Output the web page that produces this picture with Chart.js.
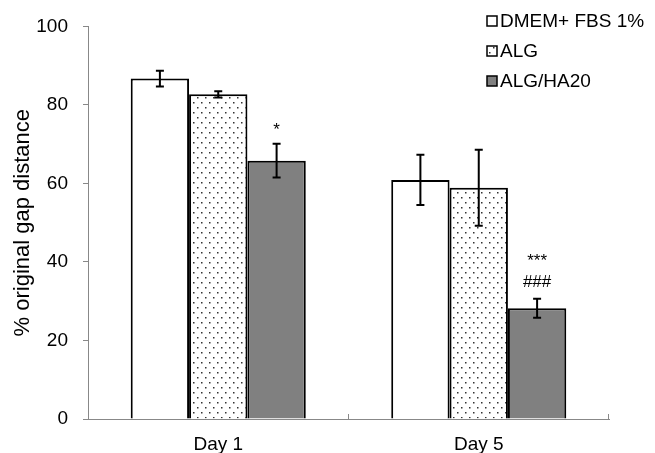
<!DOCTYPE html>
<html>
<head>
<meta charset="utf-8">
<script src="https://cdn.jsdelivr.net/npm/chart.js@4.4.0/dist/chart.umd.min.js"></script>
<style>
html, body { margin: 0; padding: 0; background: #fff; }
#wrap { width: 655px; height: 453px; }
</style>
</head>
<body>
<div id="wrap"><canvas id="chart"></canvas></div>
<script>
const days = ['Day 1', 'Day 5']
const seriesNames = ['DMEM+ FBS 1%', 'ALG', 'ALG/HA20']
const dmem = [86.7, 60.9]
const alg = [82.7, 58.9]
const algHa = [65.8, 28.2]
const dmemErr = [2.0, 6.4]
const algErr = [0.8, 9.7]
const algHaErr = [4.3, 2.4]
const algHaMarks = [['*'], ['***', '###']]
const yTicks = [0, 20, 40, 60, 80, 100]

const family = '"Liberation Sans", Arial, sans-serif'

function dots() {
    let c = document.createElement('canvas')
    c.width = 8
    c.height = 10
    let g = c.getContext('2d')
    g.fillStyle = '#fff'
    g.fillRect(0, 0, 8, 10)
    g.fillStyle = '#333'
    g.fillRect(1, 2, 1.5, 1.5)
    g.fillRect(5, 7, 1.5, 1.5)
    return g.createPattern(c, 'repeat')
}

// error bars + significance marks
const errorBars = {
    id: 'errorBars',
    afterDatasetsDraw(chart) {
        const ctx = chart.ctx
        const y = chart.scales.y
        ctx.save()
        ctx.strokeStyle = '#000'
        ctx.lineWidth = 2
        chart.data.datasets.forEach((ds, i) => {
            chart.getDatasetMeta(i).data.forEach((bar, j) => {
                const v = ds.data[j], e = ds.errors[j]
                const top = y.getPixelForValue(v + e)
                const bot = y.getPixelForValue(v - e)
                ctx.beginPath()
                ctx.moveTo(bar.x, top); ctx.lineTo(bar.x, bot)
                ctx.moveTo(bar.x - 4, top); ctx.lineTo(bar.x + 4, top)
                ctx.moveTo(bar.x - 4, bot); ctx.lineTo(bar.x + 4, bot)
                ctx.stroke()

                if (ds.marks) {
                    const marks = ds.marks[j]
                    ctx.fillStyle = '#000'
                    ctx.font = '17px ' + family
                    ctx.textAlign = 'center'
                    ctx.textBaseline = 'alphabetic'
                    marks.forEach((m, k) => {
                        const cy = top - 18 - (marks.length - 1 - k) * 24
                        const mt = ctx.measureText(m)
                        const by = cy + (mt.actualBoundingBoxAscent - mt.actualBoundingBoxDescent) / 2
                        ctx.fillText(m, bar.x, by)
                    })
                }
            })
        })
        ctx.restore()
    }
}

// excel style tick marks between the categories
const xTickMarks = {
    id: 'xTickMarks',
    afterDraw(chart) {
        const x = chart.scales.x
        const ctx = chart.ctx
        const step = (x.right - x.left) / days.length
        ctx.save()
        ctx.strokeStyle = '#888'
        ctx.lineWidth = 1
        ctx.beginPath()
        for (let i = 1; i <= days.length; i++) {
            const px = Math.round(x.left + i * step) - 0.5
            ctx.moveTo(px, x.top)
            ctx.lineTo(px, x.top - 5)
        }
        ctx.stroke()
        ctx.restore()
    }
}

const legendBox = {
    id: 'legendBox',
    afterDraw(chart) {
        const ctx = chart.ctx
        ctx.save()
        ctx.font = '19px ' + family
        ctx.textBaseline = 'middle'
        ctx.textAlign = 'left'
        chart.data.datasets.forEach((ds, i) => {
            const y = 21 + i * 30
            ctx.fillStyle = ds.backgroundColor
            ctx.fillRect(487, y - 5, 10, 10)
            ctx.strokeStyle = '#000'
            ctx.lineWidth = 1.5
            ctx.strokeRect(487, y - 5, 10, 10)
            ctx.fillStyle = '#000'
            ctx.fillText(ds.label, 500, y + 1)
        })
        ctx.restore()
    }
}

const data = {
    labels: days,
    datasets: [
        { label: seriesNames[0], data: dmem, errors: dmemErr, backgroundColor: '#fff' },
        { label: seriesNames[1], data: alg, errors: algErr, backgroundColor: dots() },
        { label: seriesNames[2], data: algHa, errors: algHaErr, marks: algHaMarks, backgroundColor: '#808080' }
    ]
}
data.datasets.forEach(ds => {
    ds.borderColor = '#000'
    ds.borderWidth = 2
    ds.categoryPercentage = 0.672
    ds.barPercentage = 1
})

const config = {
    type: 'bar',
    data: data,
    plugins: [errorBars, xTickMarks, legendBox],
    options: {
        responsive: true,
        maintainAspectRatio: false,
        animation: false,
        layout: {
            padding: { left: 4, right: 46, top: 23, bottom: 0 }
        },
        plugins: {
            legend: { display: false },
            tooltip: { enabled: false }
        },
        scales: {
            x: {
                grid: { display: false },
                border: { color: '#888', width: 1 },
                ticks: {
                    color: '#000',
                    font: { size: 19, family: family },
                    padding: 6
                },
                afterFit(s) { s.height = 34 }
            },
            y: {
                min: 0,
                max: 100,
                afterBuildTicks(s) { s.ticks = yTicks.map(v => ({ value: v })) },
                grid: { drawOnChartArea: false, color: '#888', tickLength: 5 },
                border: { color: '#888', width: 1 },
                ticks: {
                    color: '#000',
                    font: { size: 19, family: family },
                    padding: 15
                },
                title: {
                    display: true,
                    text: '% original gap distance',
                    color: '#000',
                    font: { size: 22, family: family },
                    padding: { top: 6, bottom: 0 }
                },
                afterFit(s) { s.width = 84 }
            }
        }
    }
}

new Chart(document.getElementById('chart'), config)
</script>
</body>
</html>
